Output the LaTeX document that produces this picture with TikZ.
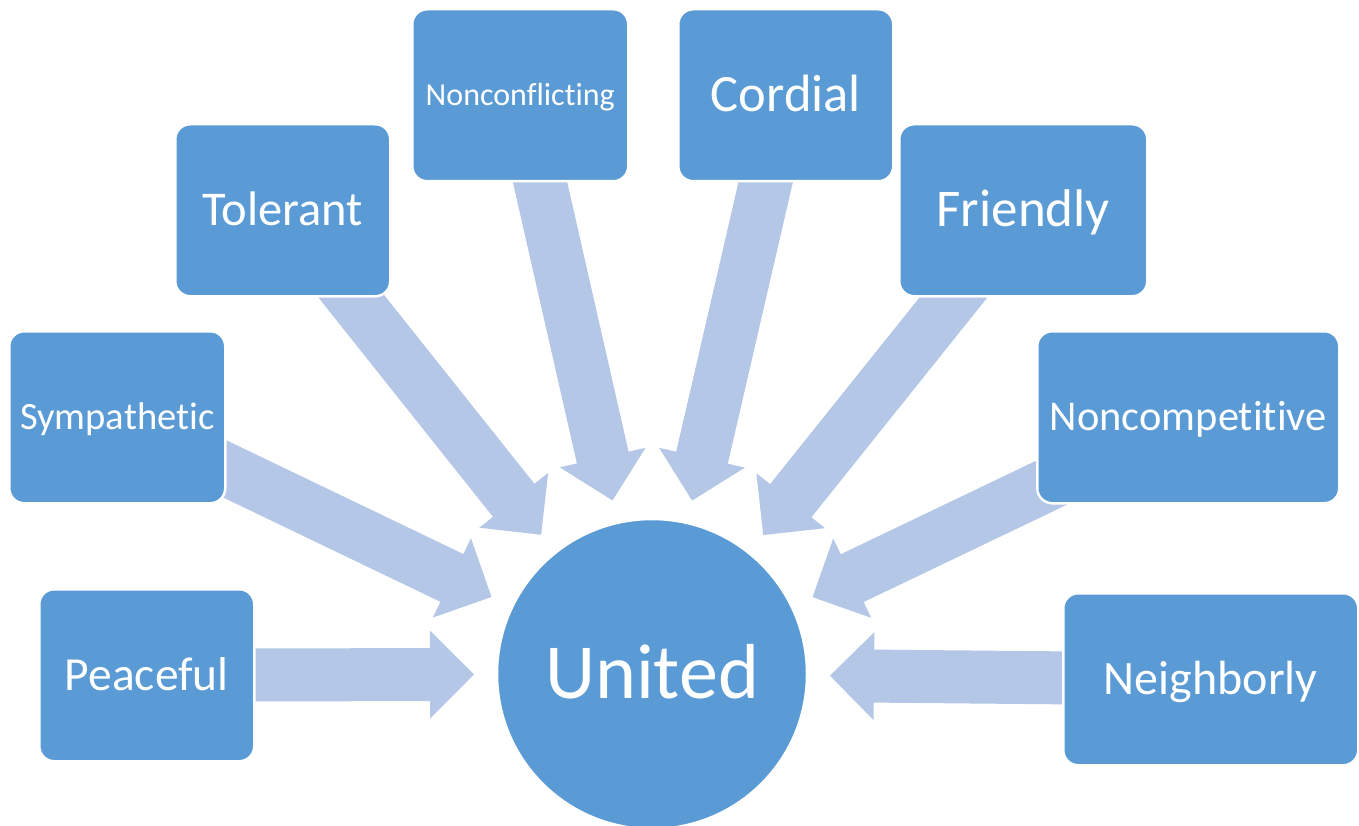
\documentclass[tikz,border=0pt]{standalone}
\usepackage{fontspec}
\setmainfont{Carlito}[Ligatures=NoCommon]
\usetikzlibrary{calc}
\definecolor{boxblue}{HTML}{5B9BD5}
\definecolor{arrowblue}{HTML}{B4C7E7}
\pgfdeclarelayer{bg}
\pgfsetlayers{bg,main}
\newcommand\blockarrow[2]{%
  \coordinate (hb) at ($(#2)!44pt!(#1.center)$);
  \fill[arrowblue] ($(#1.center)!26.5pt!90:(#2)$) -- ($(hb)!26.5pt!90:(#2)$) -- ($(hb)!44pt!90:(#2)$) -- (#2) -- ($(hb)!44pt!-90:(#2)$) -- ($(hb)!26.5pt!-90:(#2)$) -- ($(#1.center)!26.5pt!-90:(#2)$) -- cycle;}
\tikzset{
  card/.style={rounded corners=15pt, fill=boxblue, draw=white, line width=2.5pt,
    text=white, inner sep=0pt, anchor=north west, minimum height=172pt, text depth=0pt},
}
\begin{document}
\begin{tikzpicture}[x=1pt,y=-1pt]
\useasboundingbox (0,0) rectangle (1359,826);
\node[circle, fill=boxblue, draw=white, line width=2.5pt, inner sep=0pt, minimum size=310pt,
  text=white, font=\fontsize{78}{78}\selectfont, text height=49pt, text depth=0pt] (u) at (652,674) {United};
\node[card, minimum width=216pt, font=\fontsize{32}{32}\selectfont, text height=20.2pt] (ncf) at (411,8) {Nonconflicting};
\node[card, minimum width=215pt, font=\fontsize{52.5}{52.5}\selectfont, text height=33pt] (cor) at (677,8) {Cordial};
\node[card, minimum width=215pt, font=\fontsize{48.5}{48.5}\selectfont, text height=30.5pt] (tol) at (174,123) {Tolerant};
\node[card, minimum width=248pt, font=\fontsize{53}{53}\selectfont, text height=33.4pt] (fri) at (898,123) {Friendly};
\node[card, minimum width=216pt, font=\fontsize{38.6}{38.6}\selectfont, text height=24.3pt] (sym) at (8,330) {Sympathetic};
\node[card, minimum width=302pt, font=\fontsize{42.4}{42.4}\selectfont, text height=26.7pt] (ncp) at (1036,330) {Noncompetitive};
\node[card, minimum width=215pt, font=\fontsize{47.5}{47.5}\selectfont, text height=29.9pt] (pea) at (38,588) {Peaceful};
\node[card, minimum width=295pt, font=\fontsize{48}{48}\selectfont, text height=30.2pt] (nei) at (1062,592) {Neighborly};
\foreach \b in {ncf,cor,tol,fri,sym,ncp,pea,nei}{
  \coordinate (tip-\b) at ($(u.center)!178pt!(\b.center)$);
}
\begin{pgfonlayer}{bg}
\foreach \b in {ncf,cor,tol,fri,sym,ncp,pea,nei}{
  \blockarrow{\b}{tip-\b}
}
\end{pgfonlayer}
\end{tikzpicture}
\end{document}
